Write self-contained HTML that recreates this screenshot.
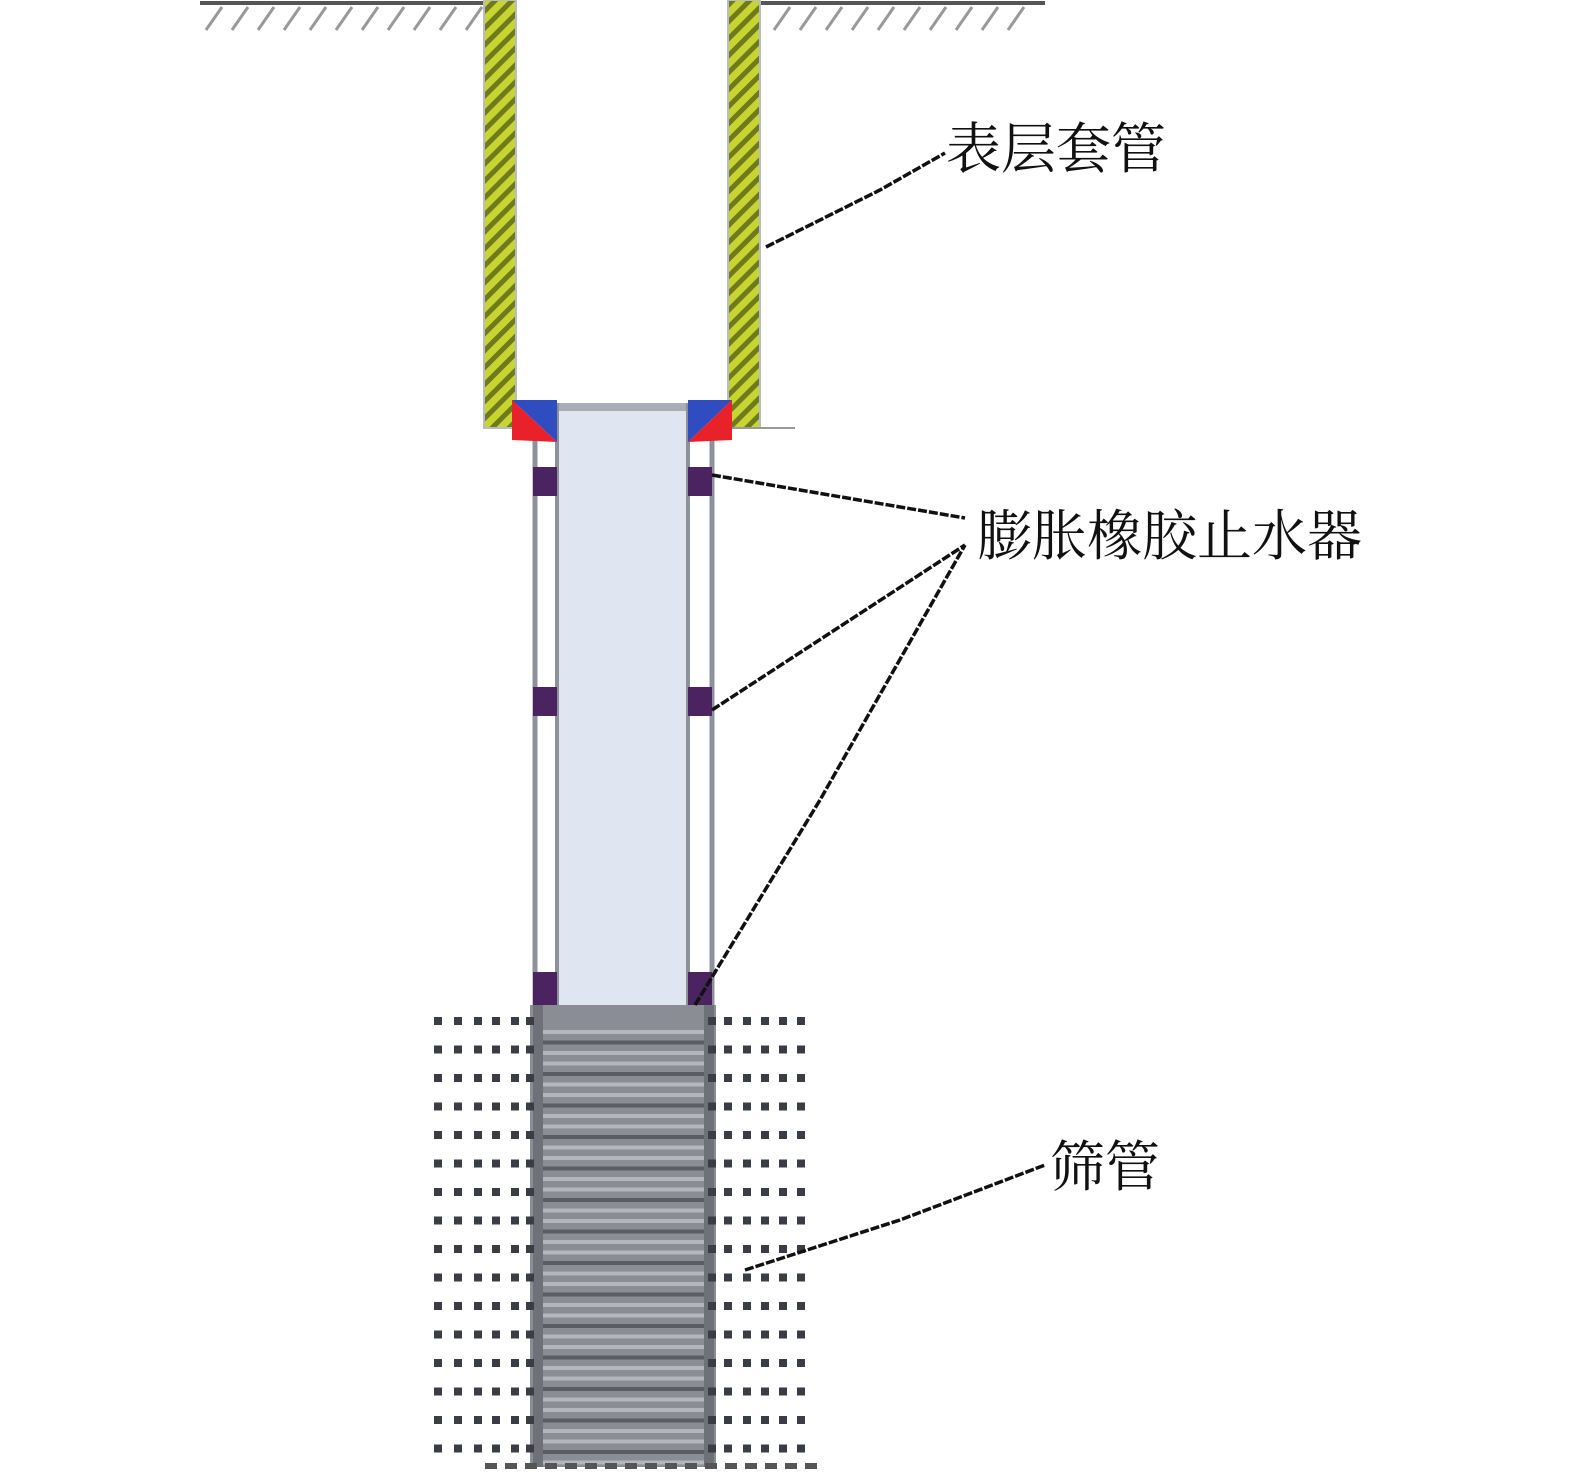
<!DOCTYPE html>
<html><head><meta charset="utf-8"><style>
html,body{margin:0;padding:0;background:#fff;width:1575px;height:1476px;overflow:hidden}
svg{display:block}
text{font-family:"Liberation Serif","Noto Serif CJK SC","Noto Sans CJK SC",serif;font-size:55px;fill:#111}
</style></head><body>
<svg id="s" width="1575" height="1476" viewBox="0 0 1575 1476" xmlns="http://www.w3.org/2000/svg">
<defs>
<pattern id="hatch" width="12" height="12" patternUnits="userSpaceOnUse" patternTransform="rotate(-45)">
<rect width="12" height="12" fill="#c8d431"/>
<rect width="12" height="5" fill="#6f7a1c"/>
</pattern>
</defs>
<line x1="200" y1="3" x2="515" y2="3" stroke="#555" stroke-width="4"/>
<line x1="728" y1="3" x2="1045" y2="3" stroke="#555" stroke-width="4"/>
<g id="gh" stroke="#999" stroke-width="3"></g>
<rect x="484" y="0" width="32" height="428" fill="url(#hatch)" stroke="#b8bcc8" stroke-width="2"/>
<rect x="728" y="0" width="32" height="428" fill="url(#hatch)" stroke="#b8bcc8" stroke-width="2"/>
<line x1="730" y1="428" x2="795" y2="428" stroke="#999" stroke-width="2"/>
<rect x="557" y="403" width="131" height="602" fill="#dfe6f2"/>
<rect x="557" y="403" width="131" height="8" fill="#a9adb5"/>
<line x1="557" y1="403" x2="557" y2="1005" stroke="#8d9199" stroke-width="4"/>
<line x1="688" y1="403" x2="688" y2="1005" stroke="#8d9199" stroke-width="4"/>
<line x1="535" y1="430" x2="535" y2="1005" stroke="#8d9199" stroke-width="5"/>
<line x1="712" y1="430" x2="712" y2="1005" stroke="#8d9199" stroke-width="5"/>
<polygon points="512,400 557,400 557,442" fill="#2f4cc0"/>
<polygon points="512,400 557,442 512,440" fill="#e8212b"/>
<polygon points="688,400 732,400 688,442" fill="#2f4cc0"/>
<polygon points="732,400 732,440 688,442" fill="#e8212b"/>
<g fill="#4a2360">
<rect x="533" y="467" width="24" height="29"/><rect x="688" y="467" width="24" height="29"/>
<rect x="533" y="687" width="24" height="29"/><rect x="688" y="687" width="24" height="29"/>
<rect x="533" y="972" width="24" height="34"/><rect x="688" y="972" width="24" height="34"/>
</g>
<rect x="530" y="1005" width="186" height="462" fill="#8a8d93"/>
<g id="stripes"></g>
<rect x="533" y="1005" width="10" height="462" fill="#6e7177"/>
<rect x="704" y="1005" width="10" height="462" fill="#6e7177"/>
<g id="dots"></g>
<g stroke="#111" stroke-width="3.5" fill="none" stroke-dasharray="9,2">
<polyline points="766,247 880,190 945,153"/>
<polyline points="712,475 800,490 965,518"/>
<polyline points="712,710 850,620 965,545"/>
<polyline points="695,1005 820,800 965,545"/>
<polyline points="745,1270 900,1220 1045,1165"/>
</g>
<text x="946" y="168">表层套管</text>
<text x="977" y="555">膨胀橡胶止水器</text>
<text x="1050" y="1186">筛管</text>
</svg>
<script>
var NS="http://www.w3.org/2000/svg";
function el(p,t,a){var e=document.createElementNS(NS,t);for(var k in a)e.setAttribute(k,a[k]);p.appendChild(e);return e;}
var gh=document.getElementById("gh");
for(var x=222;x<515;x+=26)el(gh,"line",{x1:x,y1:7,x2:x-16,y2:30});
for(var x=790;x<1045;x+=26)el(gh,"line",{x1:x,y1:7,x2:x-16,y2:30});
var st=document.getElementById("stripes");
for(var y=1030;y<1462;y+=10.5){el(st,"rect",{x:543,y:y,width:162,height:4,fill:(Math.round(y/10.5)%3==0)?"#5a5d63":"#b3b6bb"});}
var d=document.getElementById("dots");
var xs=[438,458,478,496,515,530,712,728,747,765,783,801];
for(var r=0;r<16;r++){var y=1021+r*28.5;for(var i=0;i<xs.length;i++)el(d,"rect",{x:xs[i]-4,y:y-4,width:8,height:8,fill:"#3a3d44"});}
for(var x=485;x<825;x+=20)el(d,"rect",{x:x,y:1463,width:12,height:6,fill:"#555"});
</script>
</body></html>
